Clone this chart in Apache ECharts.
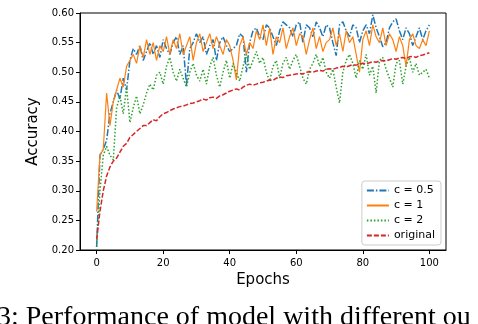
<!DOCTYPE html>
<html>
<head>
<meta charset="utf-8">
<script src="https://cdn.jsdelivr.net/npm/echarts@6/dist/echarts.min.js"></script>
<style>
  html, body { margin: 0; padding: 0; background: #fff; }
  #main { width: 478px; height: 324px; }
</style>
</head>
<body>
<div id="main"></div>
<script>
// accuracy per epoch (0..100)
var c05 = [0.205,0.36,0.37,0.385,0.43,0.45,0.47,0.455,0.49,0.47,
  0.52,0.54,0.53,0.545,0.52,0.535,0.55,0.53,0.545,0.525,
  0.555,0.54,0.53,0.55,0.56,0.53,0.545,0.478,0.54,0.55,
  0.565,0.55,0.56,0.53,0.545,0.555,0.52,0.55,0.56,0.545,
  0.535,0.54,0.545,0.565,0.56,0.50,0.55,0.57,0.575,0.56,
  0.555,0.58,0.575,0.56,0.545,0.57,0.585,0.58,0.575,0.56,
  0.58,0.585,0.55,0.58,0.575,0.56,0.585,0.575,0.56,0.58,
  0.575,0.55,0.528,0.58,0.585,0.57,0.56,0.58,0.575,0.55,
  0.57,0.58,0.565,0.597,0.575,0.56,0.543,0.55,0.575,0.585,
  0.59,0.57,0.555,0.575,0.565,0.545,0.56,0.575,0.555,0.57,0.58];
var c1 = [0.265,0.36,0.37,0.465,0.41,0.45,0.47,0.49,0.475,0.51,
  0.52,0.53,0.515,0.545,0.525,0.555,0.53,0.55,0.52,0.545,
  0.535,0.56,0.53,0.555,0.54,0.565,0.53,0.545,0.56,0.52,
  0.55,0.565,0.535,0.55,0.565,0.54,0.56,0.545,0.53,0.555,
  0.545,0.52,0.487,0.545,0.56,0.53,0.55,0.54,0.57,0.555,
  0.58,0.545,0.575,0.53,0.56,0.55,0.575,0.54,0.56,0.575,
  0.545,0.565,0.56,0.53,0.555,0.575,0.54,0.56,0.535,0.55,
  0.555,0.575,0.545,0.565,0.535,0.57,0.55,0.56,0.53,0.50,
  0.555,0.57,0.545,0.58,0.56,0.55,0.575,0.545,0.565,0.555,
  0.535,0.56,0.545,0.51,0.555,0.565,0.545,0.54,0.555,0.545,0.57];
var c2 = [0.205,0.30,0.36,0.375,0.36,0.352,0.44,0.46,0.43,0.475,
  0.415,0.44,0.46,0.43,0.445,0.465,0.48,0.47,0.495,0.50,
  0.48,0.51,0.525,0.50,0.485,0.505,0.49,0.475,0.50,0.515,
  0.495,0.485,0.505,0.48,0.51,0.525,0.495,0.475,0.50,0.52,
  0.49,0.515,0.50,0.485,0.51,0.53,0.505,0.52,0.535,0.515,
  0.525,0.50,0.485,0.51,0.52,0.49,0.515,0.525,0.505,0.52,
  0.53,0.51,0.49,0.48,0.505,0.515,0.53,0.51,0.525,0.50,
  0.49,0.505,0.475,0.448,0.50,0.52,0.53,0.515,0.49,0.52,
  0.505,0.53,0.495,0.51,0.465,0.52,0.525,0.505,0.49,0.475,
  0.515,0.52,0.48,0.51,0.525,0.50,0.515,0.495,0.50,0.505,0.49];
var original = [0.218,0.265,0.30,0.325,0.34,0.35,0.355,0.365,0.375,0.38,
  0.39,0.395,0.40,0.405,0.41,0.41,0.415,0.42,0.418,0.425,
  0.43,0.432,0.435,0.438,0.44,0.442,0.443,0.445,0.447,0.448,
  0.45,0.452,0.455,0.453,0.457,0.458,0.456,0.46,0.462,0.465,
  0.468,0.47,0.472,0.47,0.475,0.478,0.48,0.478,0.48,0.482,
  0.483,0.485,0.487,0.486,0.49,0.492,0.491,0.494,0.495,0.496,
  0.497,0.498,0.497,0.50,0.501,0.50,0.502,0.503,0.502,0.505,
  0.506,0.505,0.507,0.508,0.51,0.509,0.511,0.513,0.512,0.514,
  0.515,0.514,0.516,0.518,0.517,0.519,0.52,0.519,0.521,0.523,
  0.522,0.524,0.525,0.523,0.526,0.527,0.525,0.528,0.529,0.531,0.533];
var xTicks = [0, 20, 40, 60, 80, 100];
var names = ['c = 0.5', 'c = 1', 'c = 2', 'original'];

function pairs(arr) {
  return arr.map(function (v, i) { return [i, v]; });
}

var chart = echarts.init(document.getElementById('main'));
var font = 'DejaVu Sans';

var option = {
  animation: false,
  grid: {
    left: 80, right: 32, top: 13, bottom: 74,
    show: true, borderColor: '#000', borderWidth: 1
  },
  legend: {
    data: names,
    orient: 'vertical',
    right: 37, bottom: 79,
    itemWidth: 22, itemHeight: 10, itemGap: 4,
    padding: [4, 6, 4, 4],
    borderColor: '#ccc', borderWidth: 1, borderRadius: 3,
    backgroundColor: '#fff',
    itemStyle: { opacity: 0 },
    textStyle: { fontFamily: font, fontSize: 11, color: '#000' }
  },
  xAxis: {
    type: 'value', min: -5, max: 105,
    name: 'Epochs', nameLocation: 'middle', nameGap: 23,
    nameTextStyle: { fontFamily: font, fontSize: 15, color: '#000' },
    splitLine: { show: false },
    axisLine: { show: true, onZero: false, lineStyle: { color: '#000' } },
    axisTick: { show: true, length: 4, customValues: xTicks, lineStyle: { color: '#000' } },
    axisLabel: { customValues: xTicks, margin: 8, fontFamily: font, fontSize: 10, color: '#000' }
  },
  yAxis: {
    type: 'value', min: 0.2, max: 0.6, interval: 0.05,
    name: 'Accuracy', nameLocation: 'middle', nameGap: 36,
    nameTextStyle: { fontFamily: font, fontSize: 15, color: '#000' },
    splitLine: { show: false },
    axisLine: { show: true, onZero: false, lineStyle: { color: '#000' } },
    axisTick: { show: true, length: 4, lineStyle: { color: '#000' } },
    axisLabel: {
      margin: 6, fontFamily: font, fontSize: 10, color: '#000',
      formatter: function (v) { return v.toFixed(2); }
    }
  },
  series: [
    { name: names[0], type: 'line', data: pairs(c05), symbol: 'none',
      lineStyle: { color: '#1f77b4', width: 1.5, type: [7, 2, 1.5, 2] },
      itemStyle: { color: '#1f77b4' } },
    { name: names[1], type: 'line', data: pairs(c1), symbol: 'none',
      lineStyle: { color: '#ff7f0e', width: 1.2 },
      itemStyle: { color: '#ff7f0e' } },
    { name: names[2], type: 'line', data: pairs(c2), symbol: 'none',
      lineStyle: { color: '#2ca02c', width: 1.5, type: [1.5, 2] },
      itemStyle: { color: '#2ca02c' } },
    { name: names[3], type: 'line', data: pairs(original), symbol: 'none',
      lineStyle: { color: '#d62728', width: 1.5, type: [5, 2] },
      itemStyle: { color: '#d62728' } }
  ],
  graphic: [{
    type: 'text', left: -3, top: 304,
    style: {
      text: '3: Performance of model with different ou',
      font: '28px "Liberation Serif"', fill: '#000'
    }
  }]
};

chart.setOption(option);
</script>
</body>
</html>
